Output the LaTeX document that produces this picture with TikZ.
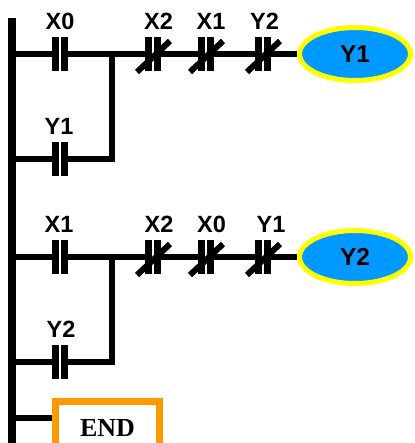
\documentclass[tikz,border=0pt]{standalone}
\usepackage{fontspec}
\setmainfont{Liberation Sans}
\newfontfamily\endfont{Liberation Serif}
\usetikzlibrary{positioning,calc,shapes.geometric}
\definecolor{coilblue}{RGB}{0,153,255}
\definecolor{coilrim}{RGB}{255,255,0}
\definecolor{endorange}{RGB}{255,153,0}
\tikzset{
  wire/.style={line width=6.5pt},
  rail/.style={line width=7.5pt},
  contact/.style={rectangle, fill=black, minimum width=16pt, minimum height=34pt,
    inner sep=0pt, outer sep=0pt,
    path picture={\draw[white, line width=1.3pt] (path picture bounding box.north) -- (path picture bounding box.south);}},
  slash/.style={line width=6pt},
  lbl/.style={font=\fontsize{23.5}{26}\selectfont\bfseries, inner sep=0pt},
  coil/.style={ellipse, draw=coilrim, fill=coilblue, line width=5pt, minimum width=111pt,
    minimum height=53pt, inner sep=0pt, font=\fontsize{24.5}{27}\selectfont\bfseries},
  endbox/.style={rectangle, draw=endorange, line width=7pt, minimum width=104pt,
    minimum height=80pt, inner sep=0pt},
  endtxt/.style={font=\endfont\fontsize{26}{28}\selectfont\bfseries, inner sep=0pt}
}
\begin{document}
\begin{tikzpicture}[x=1pt,y=-1pt]
    \clip (0,0) rectangle (414,443);
    % Left rail
    \coordinate (top) at (12,18);
    \coordinate (bot) at (12,450);
    \draw[rail] (top) -- (bot);

    % Rung 1
    \node[contact] (x0a) at (60,54) {};
    \node[lbl, above=7pt of x0a] (lx0a) {X0};
    \node[contact] (x2a) at (153,54) {};
    \node[lbl, above=7pt of x2a, xshift=5.5pt] (lx2a) {X2};
    \node[contact] (x1a) at (206,54) {};
    \node[lbl, above=7pt of x1a, xshift=5pt] (lx1a) {X1};
    \node[contact] (y2a) at (263,54) {};
    \node[lbl, above=7pt of y2a, xshift=1.5pt] (ly2a) {Y2};
    \node[coil] (y1coil) at (355,54) {Y1};
    \node[contact] (y1a) at (60,159) {}; % Latch
    \node[lbl, above=7pt of y1a, xshift=-1pt] (ly1a) {Y1};
    \coordinate (br1) at (112,54);
    \draw[wire] (top |- x0a) -- (x0a) -- (x2a) -- (x1a) -- (y2a) -- (y1coil);
    \draw[wire] (top |- y1a) -- (y1a);
    \draw[wire] (y1a) -| (br1);

    % Rung 2
    \node[contact] (x1b) at (60,257) {};
    \node[lbl, above=7pt of x1b, xshift=-1pt] (lx1b) {X1};
    \node[contact] (x2b) at (153,257) {};
    \node[lbl, above=7pt of x2b, xshift=6pt] (lx2b) {X2};
    \node[contact] (x0b) at (206,257) {};
    \node[lbl, above=7pt of x0b, xshift=5.5pt] (lx0b) {X0};
    \node[contact] (y1b) at (263,257) {};
    \node[lbl, above=7pt of y1b, xshift=8pt] (ly1b) {Y1};
    \node[coil] (y2coil) at (355,257) {Y2};
    \node[contact] (y2b) at (60,362) {}; % Latch
    \node[lbl, above=7pt of y2b, xshift=1pt] (ly2b) {Y2};
    \coordinate (br2) at (112,257);
    \draw[wire] (top |- x1b) -- (x1b) -- (x2b) -- (x0b) -- (y1b) -- (y2coil);
    \draw[wire] (top |- y2b) -- (y2b);
    \draw[wire] (y2b) -| (br2);

    % Closed contacts
    \foreach \c in {x2a,x1a,y2a,x2b,x0b,y1b}
        \draw[slash] ($(\c)+(-16,18)$) -- ($(\c)+(17,-13)$);

    % End
    \node[endbox, anchor=north west] (endb) at (52,397.5) {};
    \node[endtxt] (endt) at ($(endb.north)+(0,31)$) {END};
    \coordinate (endin) at ($(endb.north west)+(0,20.5)$);
    \draw[wire] (top |- endin) -- (endin);
\end{tikzpicture}
\end{document}
